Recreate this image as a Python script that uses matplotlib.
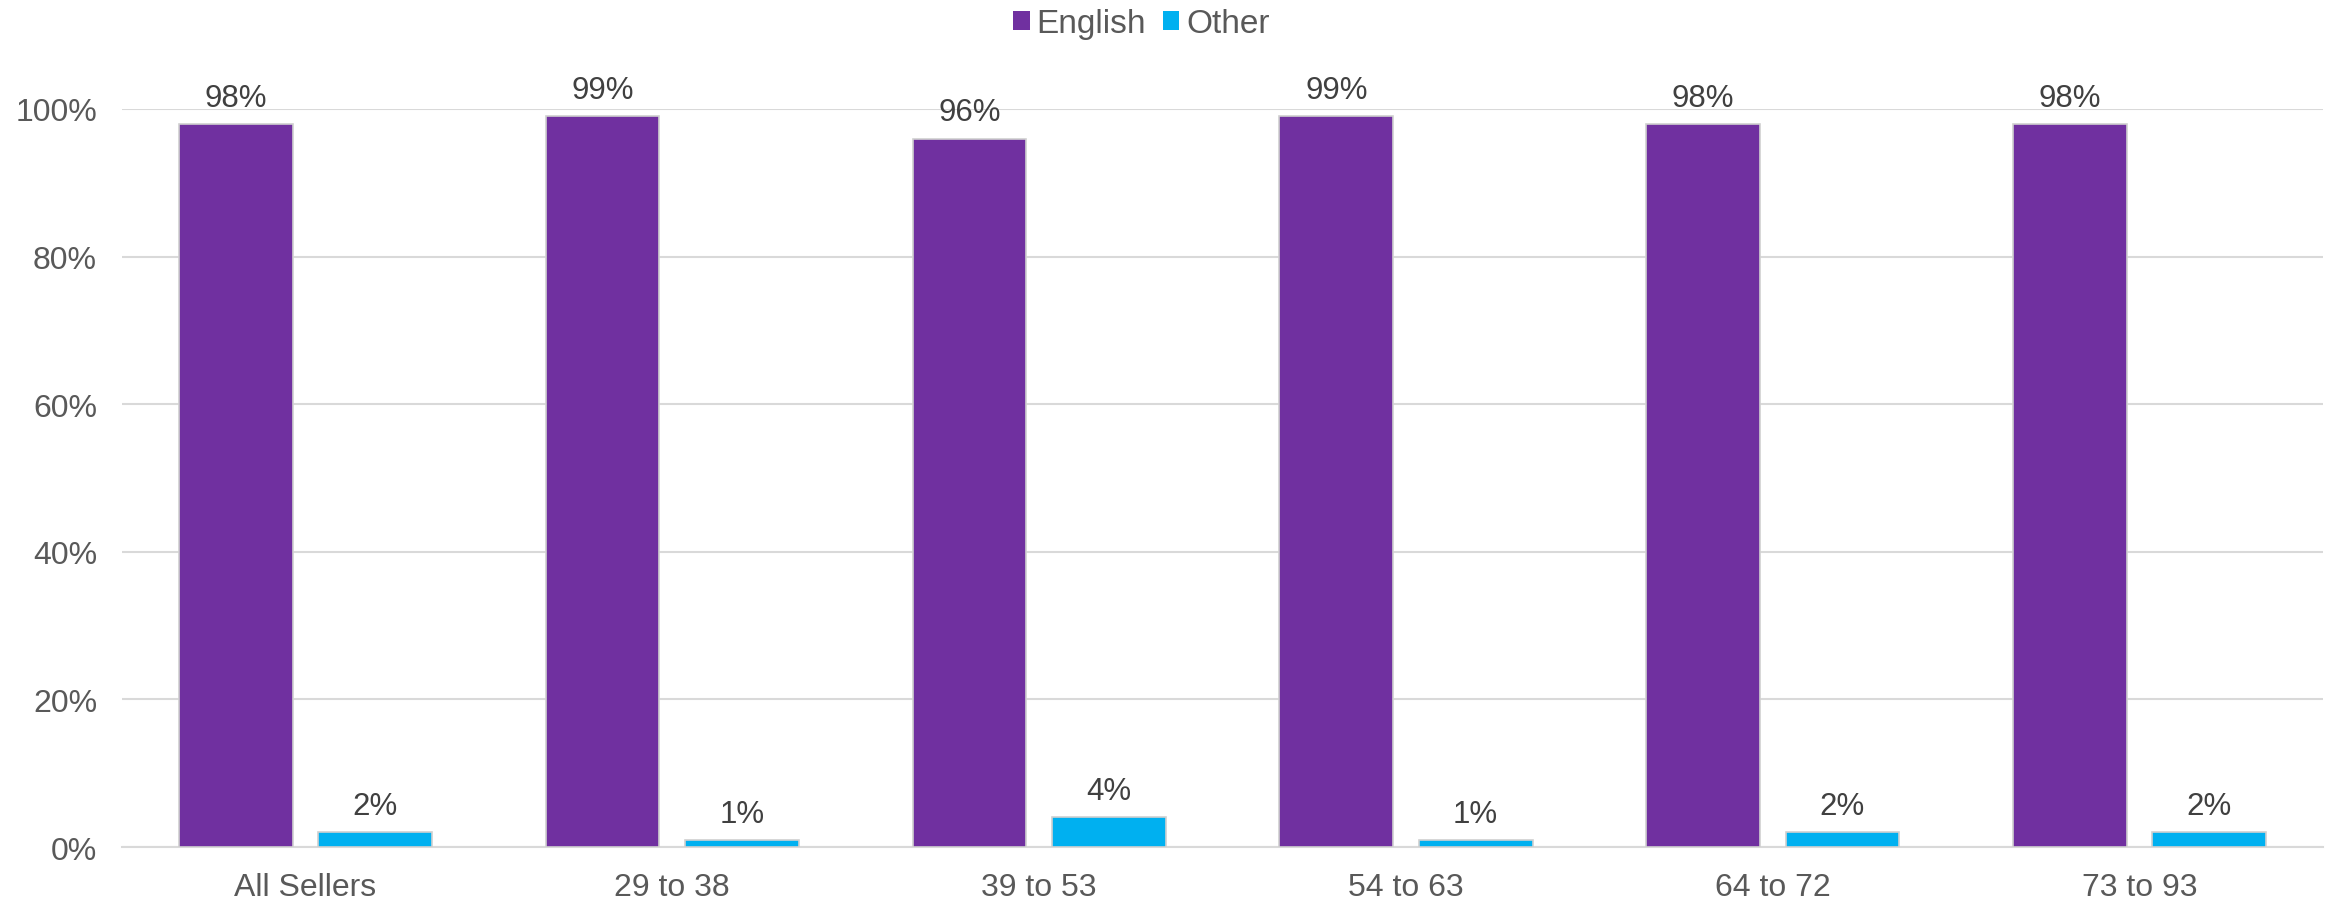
import numpy as np
import matplotlib.pyplot as plt
from matplotlib.ticker import PercentFormatter

plt.rcParams['font.family'] = ['Liberation Sans', 'DejaVu Sans']

categories = ["All Sellers", "29 to 38", "39 to 53", "54 to 63", "64 to 72", "73 to 93"]
english = [98, 99, 96, 99, 98, 98]
other = [2, 1, 4, 1, 2, 2]

purple = "#7030A0"
blue = "#00B0F0"

fig = plt.figure(figsize=(23.34, 9.03), dpi=100)
ax = fig.add_axes([0.0523, 0.0609, 0.9430, 0.8173])

x = np.arange(len(categories))
w = 0.31
b1 = ax.bar(x - 0.19, english, w, color=purple, label="English",
            edgecolor="#D0D0D0", linewidth=1.2, zorder=3)
b2 = ax.bar(x + 0.19, other, w, color=blue, label="Other",
            edgecolor="#D0D0D0", linewidth=1.2, zorder=3)

for bars in (b1, b2):
    ax.bar_label(bars, labels=[f"{int(v)}%" for v in bars.datavalues],
                 padding=8, fontsize=22.5, color="#404040", clip_on=False)

ax.set_xlim(-0.5, len(categories) - 0.5)
ax.set_ylim(0, 100)
ax.set_yticks(np.arange(0, 101, 20))
ax.yaxis.set_major_formatter(PercentFormatter(decimals=0))
ax.set_xticks(x)
ax.set_xticklabels(categories)
ax.tick_params(axis="both", length=0, labelsize=23, labelcolor="#595959")
ax.tick_params(axis="x", pad=18)
ax.tick_params(axis="y", pad=18)

ax.grid(axis="y", color="#D9D9D9", linewidth=1.5, zorder=0)
for s in ("top", "right", "left"):
    ax.spines[s].set_visible(False)
ax.spines["bottom"].set_color("#D9D9D9")
ax.spines["bottom"].set_linewidth(1.5)

leg = fig.legend(loc="center", bbox_to_anchor=(0.489, 0.973), ncol=2,
                 frameon=False, fontsize=24, handlelength=0.5, handleheight=0.5,
                 handletextpad=0.2, columnspacing=0.5, labelcolor="#595959")
for h in leg.legend_handles:
    h.set_edgecolor("none")

fig.savefig("out.png", dpi=100)
